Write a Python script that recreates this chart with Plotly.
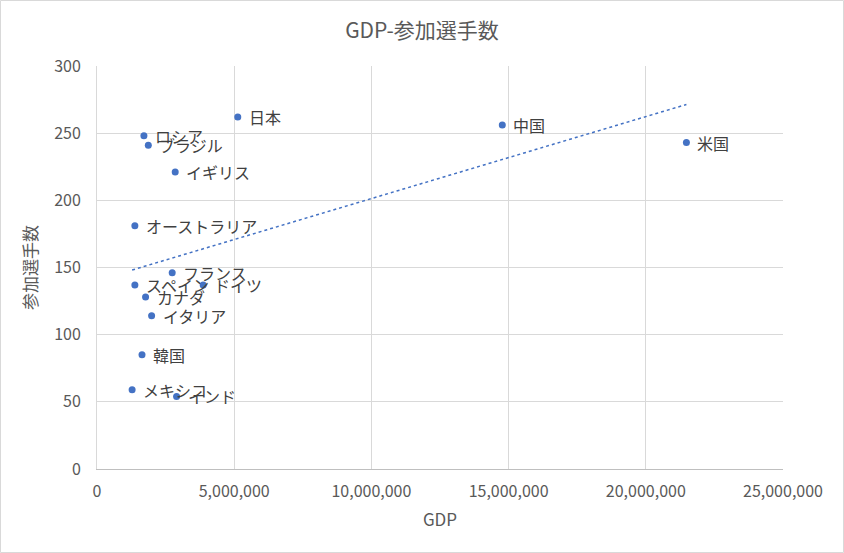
import numpy as np
import plotly.graph_objects as go

countries = ["日本", "中国", "米国", "ロシア", "ブラジル", "イギリス", "オーストラリア",
             "フランス", "ドイツ", "スペイン", "カナダ", "イタリア", "韓国", "メキシコ", "インド"]
gdp = [5130000, 14770000, 21480000, 1710000, 1870000, 2850000, 1380000,
       2740000, 3870000, 1380000, 1770000, 1990000, 1640000, 1280000, 2900000]
athletes = [262, 256, 243, 248, 241, 221, 181, 146, 137, 137, 128, 114, 85, 59, 54]

x_ticks = [0, 5000000, 10000000, 15000000, 20000000, 25000000]
y_ticks = [0, 50, 100, 150, 200, 250, 300]

slope, intercept = np.polyfit(gdp, athletes, 1)
tx = [min(gdp), max(gdp)]
ty = [slope * v + intercept for v in tx]

W, H = 844, 553
ml, mr, mt, mb = 97, 61, 66, 84
pw, ph = W - ml - mr, H - mt - mb
FONT = "Noto Sans CJK JP"
GREY = "#595959"

fig = go.Figure()
fig.add_trace(go.Scatter(
    x=tx, y=ty, mode="lines",
    line=dict(color="#4472C4", width=1.5, dash="dot"),
    hoverinfo="skip", showlegend=False))
fig.add_trace(go.Scatter(
    x=gdp, y=athletes, mode="markers",
    marker=dict(color="#4472C4", size=7),
    showlegend=False))

for name, gx, ay in zip(countries, gdp, athletes):
    fig.add_annotation(x=gx, y=ay, text=name, showarrow=False,
                       xanchor="left", yanchor="middle", xshift=9, yshift=0,
                       font=dict(family=FONT, size=16, color="#404040"))

fig.update_layout(
    width=W, height=H,
    margin=dict(l=ml, r=mr, t=mt, b=mb),
    paper_bgcolor="white", plot_bgcolor="white",
    title=dict(text="GDP-参加選手数", x=0.5, xanchor="center", y=1 - 31 / H, yanchor="middle",
               font=dict(family=FONT, size=21, color=GREY)),
    xaxis=dict(range=[0, 25000000], tickvals=x_ticks, ticktext=[f"{v:,}" for v in x_ticks],
               showgrid=True, gridcolor="#D9D9D9", gridwidth=1,
               showline=True, linecolor="#BFBFBF", linewidth=1,
               zeroline=False, ticks="", ticklabelstandoff=8,
               tickfont=dict(family=FONT, size=16, color=GREY),
               title=dict(text="GDP", standoff=12,
                          font=dict(family=FONT, size=17, color=GREY))),
    yaxis=dict(range=[0, 300], tickvals=y_ticks,
               showgrid=True, gridcolor="#D9D9D9", gridwidth=1,
               showline=True, linecolor="#D9D9D9", linewidth=1,
               zeroline=False, ticks="", ticklabelstandoff=12,
               tickfont=dict(family=FONT, size=16, color=GREY),
               title=dict(text="参加選手数", standoff=12,
                          font=dict(family=FONT, size=17, color=GREY))),
)

fig.add_shape(type="rect", xref="paper", yref="paper",
              x0=(0.5 - ml) / pw, x1=(W - 0.5 - ml) / pw,
              y0=(H - mb - (H - 0.5)) / ph, y1=(H - mb - 0.5) / ph,
              line=dict(color="#D9D9D9", width=1), fillcolor="rgba(0,0,0,0)", layer="below")

fig.write_html("out.html", config={"displayModeBar": False},
               post_script="document.body.style.margin='0';document.body.style.overflow='hidden';")
